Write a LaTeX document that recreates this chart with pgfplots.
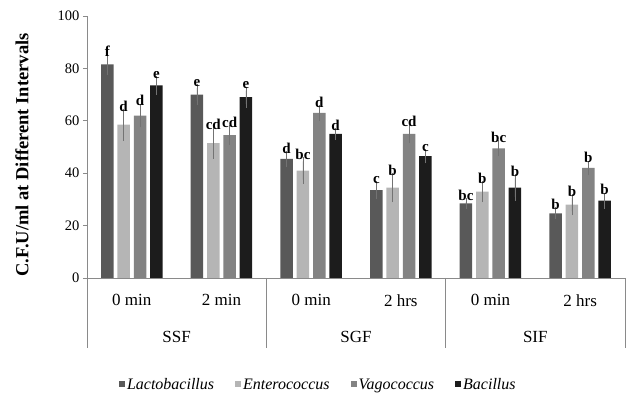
\documentclass[border=0pt]{standalone}
\usepackage{pgfplots}
\usepackage{pgfplotstable}
\pgfplotsset{compat=1.18}
\usepackage{fontspec}
\setmainfont{Liberation Serif}
\definecolor{clacto}{HTML}{595959}
\definecolor{centero}{HTML}{B5B5B5}
\definecolor{cvago}{HTML}{838383}
\definecolor{cbac}{HTML}{1C1C1C}
\definecolor{axcol}{HTML}{8A8A8A}

\pgfplotstableread{
x y err lab
0.5 81.5 2.5 f
1.5 70.0 2.5 e
2.5 45.5 1.5 d
3.5 33.5 2.0 c
4.5 28.5 0.5 bc
5.5 24.7 0.7 b
}\lacto
\pgfplotstableread{
x y err lab
0.5 58.5 4.5 d
1.5 51.5 4.5 cd
2.5 41.0 3.5 bc
3.5 34.5 4.0 b
4.5 33.0 2.5 b
5.5 28.0 2.5 b
}\entero
\pgfplotstableread{
x y err lab
0.5 62.0 3.0 d
1.5 54.5 2.2 cd
2.5 63.0 1.5 d
3.5 55.0 2.0 cd
4.5 49.5 1.5 bc
5.5 42.0 1.2 b
}\vago
\pgfplotstableread{
x y err lab
0.5 73.5 2.0 e
1.5 69.0 2.5 e
2.5 55.0 0.7 d
3.5 46.5 1.2 c
4.5 34.5 3.5 b
5.5 29.5 1.5 b
}\bacil

\begin{document}
\begin{tikzpicture}
\path[use as bounding box] (-87pt,-118pt) rectangle (540pt,278pt);
\begin{axis}[
  scale only axis, width=538pt, height=262pt,
  xmin=0, xmax=6, ymin=0, ymax=100,
  axis lines*=left,
  axis line style={axcol, line width=0.8pt},
  clip=false,
  ybar, bar width=12.5pt,
  ytick={0,20,...,100},
  tick align=outside,
  major tick length=4pt,
  y tick style={axcol, line width=0.8pt},
  xtick={0.5,1.5,2.5,3.5,4.5,5.5},
  xticklabels={0 min,2 min,0 min,2 hrs,0 min,2 hrs},
  x tick style={draw=none},
  xticklabel style={font=\fontsize{17}{17}\selectfont, yshift=-9pt},
  yticklabel style={font=\fontsize{14.5}{14.5}\selectfont},
  /pgf/number format/assume math mode=true,
  ylabel={C.F.U/ml at Different Intervals},
  ylabel style={at={(axis description cs:-0.121,0.47)}, anchor=center, font=\bfseries\fontsize{18.5}{18.5}\selectfont},
  error bars/y dir=both, error bars/y explicit,
  error bars/error bar style={black!55, line width=0.7pt},
  error bars/error mark options={black!55, mark size=4pt, line width=0.7pt},
  nodes near coords,
  point meta=explicit symbolic,
  visualization depends on={\thisrow{err} \as \err},
  every node near coord/.append style={font=\bfseries\fontsize{15}{15}\selectfont, anchor=south, yshift=\err*2.62pt+0.5pt, inner sep=1pt, black},
  legend columns=4,
  legend style={at={(axis description cs:0.43,-0.408)}, anchor=center, draw=none, fill=none,
    font=\itshape\fontsize{16}{16}\selectfont, /tikz/every even column/.append style={column sep=19pt}},
  legend image code/.code={\fill[#1] (0pt,-2.5pt) rectangle (6pt,3.5pt);},
]
\addplot[fill=clacto, draw=none, bar shift=-24.5pt] table[x=x, y=y, y error=err, meta=lab] {\lacto};
\addplot[fill=centero, draw=none, bar shift=-8.2pt] table[x=x, y=y, y error=err, meta=lab] {\entero};
\addplot[fill=cvago, draw=none, bar shift=8.2pt] table[x=x, y=y, y error=err, meta=lab] {\vago};
\addplot[fill=cbac, draw=none, bar shift=24.5pt] table[x=x, y=y, y error=err, meta=lab] {\bacil};
\legend{Lactobacillus, Enterococcus, Vagococcus, Bacillus}
\draw[axcol, line width=0.8pt] (axis cs:0,0) -- ++(0pt,-70pt);
\draw[axcol, line width=0.8pt] (axis cs:2,0) -- ++(0pt,-70pt);
\draw[axcol, line width=0.8pt] (axis cs:4,0) -- ++(0pt,-70pt);
\draw[axcol, line width=0.8pt] (axis cs:6,0) -- ++(0pt,-70pt);
\node[font=\fontsize{17}{17}\selectfont] at (axis cs:1,0) [yshift=-59pt] {SSF};
\node[font=\fontsize{17}{17}\selectfont] at (axis cs:3,0) [yshift=-59pt] {SGF};
\node[font=\fontsize{17}{17}\selectfont] at (axis cs:5,0) [yshift=-59pt] {SIF};
\end{axis}
\end{tikzpicture}
\end{document}
